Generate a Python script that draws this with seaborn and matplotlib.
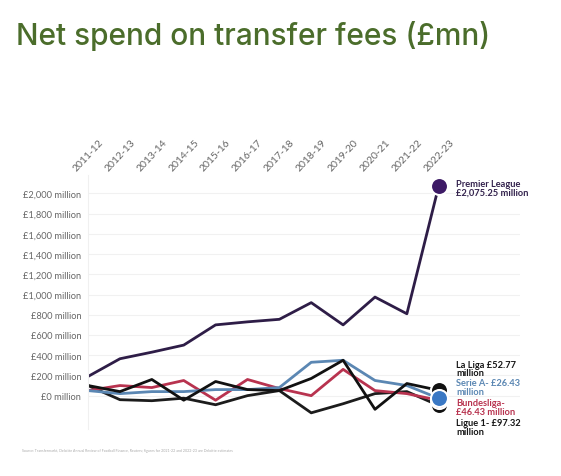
import pandas as pd
import seaborn as sns
import matplotlib.pyplot as plt

seasons = ["2011-12", "2012-13", "2013-14", "2014-15", "2015-16", "2016-17",
           "2017-18", "2018-19", "2019-20", "2020-21", "2021-22", "2022-23"]

premier_league = [190, 365, 430, 500, 700, 730, 755, 920, 700, 975, 810, 2075.25]
la_liga = [100, 40, 160, -45, 140, 60, 50, 170, 350, -135, 120, 52.77]
serie_a = [50, 20, 40, 40, 60, 60, 80, 330, 350, 150, 100, -26.43]
bundesliga = [50, 100, 80, 150, -45, 160, 70, 0, 260, 50, 20, -46.43]
ligue_1 = [100, -40, -50, -25, -90, 0, 50, -170, -80, 20, 40, -97.32]

leagues = ["Premier League", "La Liga", "Serie A", "Bundesliga", "Ligue 1"]
colors = {"Premier League": "#2e1d47", "La Liga": "#111111", "Serie A": "#5b87b3",
          "Bundesliga": "#b8334f", "Ligue 1": "#1c1c1c"}
marker_colors = {"Premier League": "#3d1a66", "La Liga": "#111111", "Serie A": "#3a78c4",
                 "Bundesliga": "#b8334f", "Ligue 1": "#111111"}
end_labels = {
    "Premier League": ("Premier League\n£2,075.25 million", 2060, "#33224d"),
    "La Liga": ("La Liga £52.77\nmillion", 268, "#151515"),
    "Serie A": ("Serie A- £26.43\nmillion", 88, "#5b87b3"),
    "Bundesliga": ("Bundesliga-\n£46.43 million", -110, "#b8334f"),
    "Ligue 1": ("Ligue 1- £97.32\nmillion", -308, "#151515"),
}

values = [premier_league, la_liga, serie_a, bundesliga, ligue_1]
df = pd.DataFrame({
    "idx": list(range(len(seasons))) * len(leagues),
    "league": [lg for lg in leagues for _ in seasons],
    "spend": [v for vals in values for v in vals],
})

sns.set_style("white")
plt.rcParams["font.family"] = ["Lato", "DejaVu Sans"]

fig = plt.figure(figsize=(5.61, 4.77), dpi=100)
ax = fig.add_axes([0.157, 0.0985, 0.770, 0.532])

sns.lineplot(data=df, x="idx", y="spend", hue="league", palette=colors,
             hue_order=leagues[::-1], linewidth=2.0, sort=False, legend=False, ax=ax)

# end markers, drawn from bottom of the stack up
last = df[df["idx"] == len(seasons) - 1]
for lg in ["Ligue 1", "Bundesliga", "La Liga", "Serie A", "Premier League"]:
    row = last[last["league"] == lg]
    sns.scatterplot(x=row["idx"], y=row["spend"], color=marker_colors[lg], s=150,
                    edgecolor="white", linewidth=1.5, zorder=5, ax=ax, legend=False)

for lg in leagues:
    text, ypos, col = end_labels[lg]
    ax.text(len(seasons) - 1 + 0.55, ypos, text, color=col, fontsize=6.7,
            fontweight="bold", va="center", ha="left", linespacing=0.95)

ax.set_xlim(0, 13.55)
ax.set_ylim(-330, 2180)
ax.set_xticks(range(len(seasons)))
ax.set_xticklabels(seasons, rotation=47, ha="center", fontsize=7.5, color="#666666")
ax.xaxis.tick_top()
ax.tick_params(axis="x", length=0, pad=2)
yticks = list(range(0, 2001, 200))
ax.set_yticks(yticks)
ax.set_yticklabels([f"£{v:,} million" for v in yticks], fontsize=6.7, color="#666666")
ax.tick_params(axis="y", length=0, pad=5)
ax.set_xlabel("")
ax.set_ylabel("")
ax.grid(axis="y", color="#f1f1f1", linewidth=0.8)
for side in ["top", "right", "bottom"]:
    ax.spines[side].set_visible(False)
ax.spines["left"].set_color("#f0f0f0")

fig.text(0.028, 0.905, "Net spend on transfer fees (£mn)", fontsize=21.5,
         color="#4b6d2b", family=["Inter", "DejaVu Sans"], fontweight="medium",
         va="baseline")
fig.text(0.04, 0.053, "Source: Transfermarkt, Deloitte Annual Review of Football Finance, "
         "Reuters; figures for 2021-22 and 2022-23 are Deloitte estimates",
         fontsize=2.6, color="#aaaaaa")

fig.savefig("out.png", dpi=100)
